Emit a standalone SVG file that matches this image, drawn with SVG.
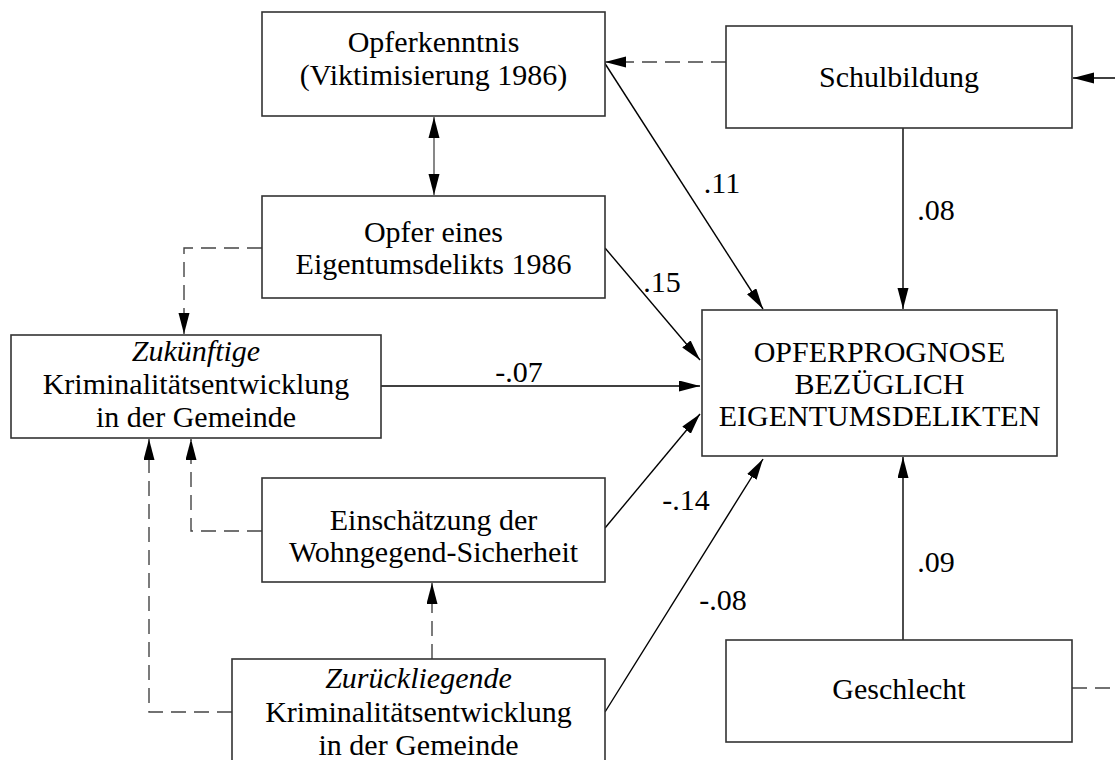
<svg xmlns="http://www.w3.org/2000/svg" width="1115" height="760" viewBox="0 0 1115 760">
<defs>
<style>
.box{fill:#fff;stroke:#333;stroke-width:1.6}
.t{font-family:"Liberation Serif","Times New Roman",serif;font-size:30px;fill:#000;text-anchor:middle}
.lbl{font-family:"Liberation Serif","Times New Roman",serif;font-size:30px;fill:#000;text-anchor:middle}
.it{font-style:italic}
.sol{fill:none;stroke:#000;stroke-width:1.4}
.dsh{fill:none;stroke:#444;stroke-width:1.4;stroke-dasharray:15,8}
</style>
<marker id="ah" markerUnits="userSpaceOnUse" markerWidth="22" markerHeight="12" refX="21" refY="5.5" orient="auto">
<path d="M0,0 L21,5.5 L0,11 z" fill="#000"/>
</marker>
<marker id="as" markerUnits="userSpaceOnUse" markerWidth="22" markerHeight="12" refX="0" refY="5.5" orient="auto">
<path d="M21,0 L0,5.5 L21,11 z" fill="#000"/>
</marker>
</defs>
<rect width="1115" height="760" fill="#fff"/>

<g id="connectors">
<path class="sol" d="M604,62 L763,309" marker-end="url(#ah)"/>
<path class="sol" d="M605,248 L700,360" marker-end="url(#ah)"/>
<path class="sol" d="M381,386 L700,386" marker-end="url(#ah)"/>
<path class="sol" d="M605,528 L700,414" marker-end="url(#ah)"/>
<path class="sol" d="M605,712 L763,459" marker-end="url(#ah)"/>
<path class="sol" d="M903,128 L903,309" marker-end="url(#ah)"/>
<path class="sol" d="M903,640 L903,457" marker-end="url(#ah)"/>
<path class="sol" d="M1115,78 L1073,78" marker-end="url(#ah)"/>
<path class="dsh" d="M726,62 L605,62" marker-end="url(#ah)"/>
<path style="fill:none;stroke:#555;stroke-width:1.4" d="M434,117 L434,195" marker-start="url(#as)" marker-end="url(#ah)"/>
<path class="dsh" d="M262,248 H184 V334" marker-end="url(#ah)"/>
<path class="dsh" d="M262,531 H191 V439" marker-end="url(#ah)"/>
<path class="dsh" d="M232,712 H149 V439" marker-end="url(#ah)"/>
<path class="dsh" d="M432,659 V583" marker-end="url(#ah)"/>
<path class="dsh" d="M1072,688 H1115"/>
<text class="lbl" x="722" y="193">.11</text>
<text class="lbl" x="662" y="292">.15</text>
<text class="lbl" x="936" y="220">.08</text>
<text class="lbl" x="519" y="382">-.07</text>
<text class="lbl" x="686" y="510">-.14</text>
<text class="lbl" x="936" y="572">.09</text>
<text class="lbl" x="723" y="610">-.08</text>
</g>

<g id="opferkenntnis">
<rect class="box" x="262" y="12" width="343" height="104"/>
<text class="t" x="433.5" y="52">Opferkenntnis</text>
<text class="t" x="433.5" y="85">(Viktimisierung 1986)</text>
</g>

<g id="schulbildung">
<rect class="box" x="726" y="26" width="346" height="102"/>
<text class="t" x="899" y="87">Schulbildung</text>
</g>

<g id="opfer-eigentum">
<rect class="box" x="262" y="196" width="343" height="102"/>
<text class="t" x="433.5" y="242">Opfer eines</text>
<text class="t" x="433.5" y="274">Eigentumsdelikts 1986</text>
</g>

<g id="zukuenftige">
<rect class="box" x="11" y="335" width="370" height="103"/>
<text class="t" x="196" y="361"><tspan class="it">Zukünftige</tspan></text>
<text class="t" x="196" y="394">Kriminalitätsentwicklung</text>
<text class="t" x="196" y="427">in der Gemeinde</text>
</g>

<g id="opferprognose">
<rect class="box" x="702" y="310" width="355" height="146"/>
<text class="t" x="879.5" y="362">OPFERPROGNOSE</text>
<text class="t" x="879.5" y="394">BEZÜGLICH</text>
<text class="t" x="879.5" y="426">EIGENTUMSDELIKTEN</text>
</g>

<g id="einschaetzung">
<rect class="box" x="262" y="478" width="343" height="104"/>
<text class="t" x="433.5" y="530">Einschätzung der</text>
<text class="t" x="433.5" y="562">Wohngegend-Sicherheit</text>
</g>

<g id="zurueckliegende">
<rect class="box" x="232" y="659" width="373" height="120"/>
<text class="t" x="418.5" y="688"><tspan class="it">Zurückliegende</tspan></text>
<text class="t" x="418.5" y="722">Kriminalitätsentwicklung</text>
<text class="t" x="418.5" y="755">in der Gemeinde</text>
</g>

<g id="geschlecht">
<rect class="box" x="726" y="640" width="346" height="102"/>
<text class="t" x="899" y="699">Geschlecht</text>
</g>
</svg>
